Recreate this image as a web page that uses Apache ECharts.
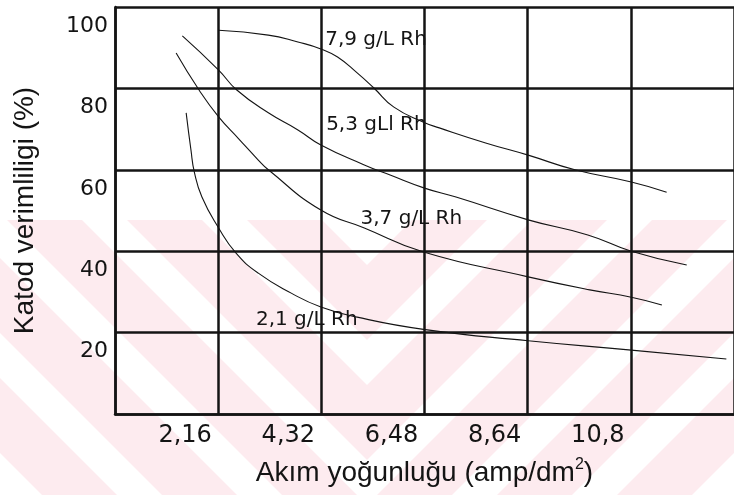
<!DOCTYPE html>
<html><head><meta charset="utf-8">
<script src="https://cdn.jsdelivr.net/npm/echarts@6/dist/echarts.min.js"></script>
<style>html,body{margin:0;padding:0;background:#fff}#c{width:734px;height:495px}</style>
</head><body><div id="c"></div>
<script>
// ---- data ----
const xTickValues = [2.16, 4.32, 6.48, 8.64, 10.8];
const xTickLabels = ['2,16', '4,32', '6,48', '8,64', '10,8'];
const yTickValues = [20, 40, 60, 80, 100];
const yTickLabels = ['20', '40', '60', '80', '100'];
const seriesNames = ['7,9 g/L Rh', '5,3 gLl Rh', '3,7 g/L Rh', '2,1 g/L Rh'];
const rh79 = [[2.17,94.3],[3.21,93.1],[3.83,91.4],[4.31,89.7],[4.66,87.7],[5.07,83.8],[5.42,80.1],[5.84,75.4],[6.46,71.7],[6.79,70.3],[7.76,66.6],[8.65,63.6],[9.63,60.0],[10.81,57.0],[11.55,54.5]];
const rh53 = [[1.41,92.9],[2.17,84.5],[2.55,79.6],[3.21,74.0],[3.83,69.8],[4.31,66.1],[5.22,61.2],[5.76,58.7],[6.48,55.5],[7.14,53.3],[8.65,47.7],[9.90,44.0],[10.81,40.0],[11.97,36.6]];
const rh37 = [[1.28,88.7],[1.76,79.6],[2.17,73.0],[2.59,67.6],[3.00,62.4],[3.21,60.0],[4.31,50.1],[5.22,45.7],[6.46,39.8],[8.65,33.7],[9.94,30.5],[10.81,28.7],[11.45,26.8]];
const rh21 = [[1.49,74.0],[1.59,64.9],[1.66,59.5],[1.82,53.3],[2.17,45.7],[2.53,39.6],[3.00,34.6],[3.69,29.7],[4.31,26.3],[5.07,23.8],[6.46,20.8],[8.65,18.0],[10.81,15.7],[12.80,13.5]];
const labelAnchors = [[4.39,91.9],[4.41,71.1],[5.13,48.0],[2.94,23.2]];
const allSeries = [rh79, rh53, rh37, rh21];

// ---- chart ----
const chart = echarts.init(document.getElementById('c'), null, {renderer: 'canvas'});
const INK = '#141414';
const numFont = '"DejaVu Sans", sans-serif';
const txtFont = '"Liberation Sans", Arial, sans-serif';

function clip(poly, c, keepLess) {
  const out = [];
  for (let i = 0; i < poly.length; i++) {
    const p = poly[i], q = poly[(i + 1) % poly.length];
    const pin = keepLess ? p[0] <= c : p[0] >= c;
    const qin = keepLess ? q[0] <= c : q[0] >= c;
    if (pin) out.push(p);
    if (pin !== qin) { const t = (c - p[0]) / (q[0] - p[0]); out.push([c, p[1] + t * (q[1] - p[1])]); }
  }
  return out;
}
// faint background watermark (decoration)
const wm = [];
const y0 = 220, y1 = 495, h = y1 - y0, mid = 367;
for (let a = 7 - 120 * 4; a < mid; a += 120) {
  const p = [[a, y0], [a + 75, y0], [a + 75 + h, y1], [a + h, y1]];
  const l = clip(p, mid, true);
  if (l.length > 2) wm.push(l);
  const r = clip(p.map(v => [734 - v[0], v[1]]), mid, false);
  if (r.length > 2) wm.push(r);
}

chart.setOption({
  animation: false,
  backgroundColor: '#ffffff',
  graphic: wm.map(pts => ({type: 'polygon', z: -10, silent: true, shape: {points: pts}, style: {fill: '#fdebef'}})),
  grid: {left: 115, top: 7, width: 626, height: 407},
  xAxis: {
    type: 'value', min: 0, max: 12.96, interval: 2.16,
    axisLine: {show: true, lineStyle: {color: INK, width: 2.5}},
    axisTick: {show: false},
    splitLine: {show: true, lineStyle: {color: INK, width: 2.5}},
    axisLabel: {
      color: INK, fontFamily: numFont, fontSize: 24, margin: 10, padding: [0, 66, 0, 0],
      showMinLabel: false, showMaxLabel: false,
      formatter: v => { const i = xTickValues.findIndex(t => Math.abs(t - v) < 1e-6); return i >= 0 ? xTickLabels[i] : ''; }
    },
    name: 'Akım yoğunluğu (amp/dm{sup|2})',
    nameLocation: 'middle', nameGap: 43,
    nameTextStyle: {color: INK, fontFamily: txtFont, fontSize: 28,
      rich: {sup: {fontFamily: txtFont, fontSize: 16, color: INK, padding: [0, 0, 16, 0]}}}
  },
  yAxis: {
    type: 'value', min: 0, max: 100, interval: 20,
    axisLine: {show: true, lineStyle: {color: INK, width: 2.5}},
    axisTick: {show: false},
    splitLine: {show: true, lineStyle: {color: INK, width: 2.5}},
    axisLabel: {
      color: INK, fontFamily: numFont, fontSize: 22, margin: 7, verticalAlign: 'top', padding: [8, 0, 0, 0],
      formatter: v => { const i = yTickValues.findIndex(t => Math.abs(t - v) < 1e-6); return i >= 0 ? yTickLabels[i] : ''; }
    },
    name: 'Katod verimliligi (%)',
    nameLocation: 'middle', nameGap: 76,
    nameTextStyle: {color: INK, fontFamily: txtFont, fontSize: 28}
  },
  series: allSeries.map((d, i) => ({
    type: 'line', name: seriesNames[i], data: d,
    smooth: 0.5, showSymbol: false, silent: true, z: 5,
    lineStyle: {color: INK, width: 1.1},
    markPoint: {
      symbol: 'circle', symbolSize: 1, silent: true,
      itemStyle: {color: 'rgba(0,0,0,0)'},
      label: {show: true, position: 'right', distance: 0, color: INK, fontFamily: numFont, fontSize: 20, formatter: seriesNames[i]},
      data: [{coord: labelAnchors[i]}]
    }
  }))
});
</script></body></html>
